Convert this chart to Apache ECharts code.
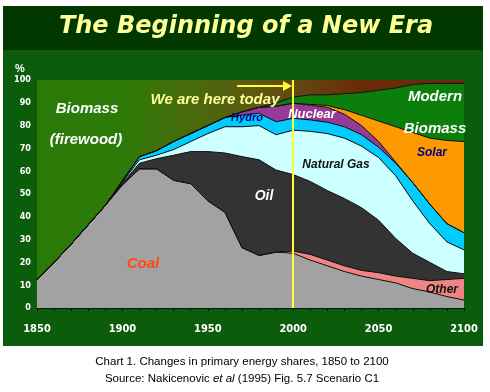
<!DOCTYPE html>
<html>
<head>
<meta charset="utf-8">
<script src="https://cdn.jsdelivr.net/npm/echarts@6/dist/echarts.min.js"></script>
<style>html,body{margin:0;padding:0;background:#fff}#c{width:490px;height:392px}</style>
</head>
<body>
<div id="c"></div>
<script>
const years = ['1850','1860','1870','1880','1890','1900','1910','1920','1930','1940','1950','1960','1970','1980','1990','2000','2010','2020','2030','2040','2050','2060','2070','2080','2090','2100'];
const coal      = [12.5,20,28,36.5,45,54,61,61,56,54.5,47,42,26.5,23,24.5,24,21,18.5,16,14,12.5,11,8.5,7,5,3.5];
const other     = [0,0,0,0,0,0,0,0,0,0,0,0,0,0,0,1,2.5,2.5,2.5,2.5,3,3,4.5,5,7.5,9.5];
const oil       = [0,0,0,0,0,0.8,2.5,4.5,11,14.1,21.6,26,39.9,42,36,33.5,32,30.5,29.5,27.5,23,16.5,11,8,3.5,2];
const gas       = [0,0,0,0,0,0.5,1.5,1.5,2.5,4.4,7.9,11.5,13.1,15,15.5,19.5,22,25,26.5,27,27.5,27.5,23,17,13,10.5];
const hydro     = [0,0,0,0,0,0.5,1.4,2,3.5,3.5,3.5,4,5.1,5.4,5.7,5.2,5,5,5,5,4.5,5.5,8,8.5,8,7.5];
const nuclear   = [0,0,0,0,0,0,0,0,0,0,0,0,1.4,2.6,6.8,6.6,6.5,6.5,5.5,4,2.5,0.5,0,0,0,0];
const solar     = [0,0,0,0,0,0,0,0,0,0,0,0,0,0,0,0,0.3,0.8,2,4.5,9,15.5,22,29,36.5,40];
const modernBio = [0,0,0,0,0,0,0,0,0,0,0,0,0,0,1.5,2.7,4.2,4.7,7,10,13.5,17,21,24,25,25.5];
const firewood  = [87.5,80,72,63.5,55,44.2,33.6,31,27,23.5,20,16.5,14,12,10,7.5,6.5,6.5,6,5.5,4.5,3.5,2,1.5,1.5,1.5];
const yTicks = [0,10,20,30,40,50,60,70,80,90,100];

const chart = echarts.init(document.getElementById('c'), null, {renderer:'canvas'});
const line = {color:'#111', width:1};
function s(name, data, color){
  return {name, type:'line', stack:'all', data, symbol:'none', smooth:false,
    lineStyle: line, areaStyle:{color, opacity:1}, itemStyle:{color}, z:2};
}
const fwGrad = new echarts.graphic.LinearGradient(0,0,1,0,[
  {offset:0,color:'#2a7a08'},{offset:0.2,color:'#2e7a08'},{offset:0.36,color:'#486a0c'},
  {offset:0.5,color:'#5c5a10'},{offset:0.62,color:'#664414'},{offset:0.75,color:'#6a2c08'},{offset:1,color:'#6a2808'}]);
const series = [
  s('Coal', coal, '#a2a2a2'),
  s('Other', other, '#ee8484'),
  s('Oil', oil, '#333333'),
  s('Natural Gas', gas, '#ccffff'),
  s('Hydro', hydro, '#00ccff'),
  s('Nuclear', nuclear, '#953a95'),
  s('Solar', solar, '#ff9900'),
  s('Modern Biomass', modernBio, '#0c7e0c'),
  Object.assign(s('Biomass (firewood)', firewood, fwGrad), {lineStyle:{width:0}})
];
series[0].markLine = {silent:true, symbol:'none', label:{show:false},
  lineStyle:{color:'#ffff33', width:2, type:'solid'}, data:[{xAxis:'2000'}]};

const lbl = (text, x, y, size, color, extra) => Object.assign({type:'text', z:50, style:Object.assign({
  text, x, y, fill:color, font:'italic bold '+size+'px "Liberation Sans", Arial, sans-serif',
  textAlign:'center', textVerticalAlign:'middle'}, extra||{})});

chart.setOption({
  animation:false,
  backgroundColor:'#ffffff',
  grid:{left:37, right:26, top:80, bottom:84},
  xAxis:{type:'category', data:years, boundaryGap:false,
    axisLine:{lineStyle:{color:'#111', width:1}},
    axisTick:{show:true, interval:0, length:3, lineStyle:{color:'#111'}},
    axisLabel:{interval:4, color:'#ffffff', fontSize:11, fontWeight:'bold', margin:16,
      fontFamily:'"Liberation Sans Narrow", "DejaVu Sans Condensed", sans-serif'},
    splitLine:{show:false}},
  yAxis:{type:'value', min:0, max:100, interval:10,
    axisLine:{show:true, lineStyle:{color:'#111'}},
    axisTick:{show:false},
    axisLabel:{color:'#ffffff', fontSize:9, fontWeight:'bold', margin:6,
      fontFamily:'"Liberation Sans Narrow", "DejaVu Sans Condensed", sans-serif',
      formatter: v => yTicks.includes(v) ? String(v) : ''},
    splitLine:{show:false}},
  series,
  graphic:[
    {type:'rect', z:-10, shape:{x:3, y:6, width:480, height:340}, style:{fill:'#0b5c0b'}},
    {type:'rect', z:-9, shape:{x:3, y:6, width:480, height:44}, style:{fill:'#003800'}},
    lbl('The Beginning of a New Era', 246, 27, 24, '#ffff99', {font:'italic bold 24px "DejaVu Sans", Verdana, sans-serif'}),
    lbl('%', 20, 69, 11, '#ffffff', {font:'bold 11px "Liberation Sans", Arial, sans-serif'}),
    lbl('Biomass', 87, 109, 15, '#ffffff'),
    lbl('(firewood)', 86, 140, 15, '#ffffff'),
    lbl('We are here today', 215, 100, 15, '#ffff99'),
    {type:'line', z:50, shape:{x1:237, y1:86, x2:284, y2:86}, style:{stroke:'#ffff33', lineWidth:2}},
    {type:'polygon', z:50, shape:{points:[[283,81],[292,86],[283,91]]}, style:{fill:'#ffff33'}},
    lbl('Hydro', 247, 118, 11, '#000080', {}),
    lbl('Nuclear', 312, 114, 13, '#ffffff'),
    lbl('Modern', 435, 97, 15, '#ffffff'),
    lbl('Biomass', 435, 129, 15, '#ffffff'),
    lbl('Solar', 432, 153, 12, '#000080'),
    lbl('Natural Gas', 336, 165, 12, '#111111'),
    lbl('Oil', 264, 196, 14, '#ffffff'),
    lbl('Coal', 143, 264, 15, '#ff4a10'),
    lbl('Other', 442, 290, 12, '#111111'),
    {type:'text', z:50, style:{text:'Chart 1. Changes in primary energy shares, 1850 to 2100', x:242, y:362,
      fill:'#000', font:'11.5px "Liberation Sans", Arial, sans-serif', textAlign:'center', textVerticalAlign:'middle'}},
    {type:'text', z:50, style:{text:'{n|Source: Nakicenovic }{i|et al}{n| (1995) Fig. 5.7 Scenario C1}', x:242, y:379,
      textAlign:'center', textVerticalAlign:'middle',
      rich:{n:{fill:'#000', font:'11.5px "Liberation Sans", Arial, sans-serif'},
            i:{fill:'#000', font:'italic 11.5px "Liberation Sans", Arial, sans-serif'}}}}
  ]
});
</script>
</body>
</html>
